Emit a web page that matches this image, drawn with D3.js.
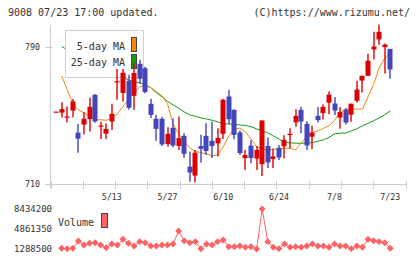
<!DOCTYPE html>
<html><head><meta charset="utf-8">
<script src="https://cdn.jsdelivr.net/npm/d3@7/dist/d3.min.js"></script>
<style>
body{margin:0;background:#fff}
svg{display:block}
text{font-family:"DejaVu Sans Mono","Liberation Mono",monospace;fill:#333}
</style>
</head><body>
<svg id="c" width="420" height="259"></svg>
<script>
const dates = ["4/24","4/25","4/26","4/30","5/1","5/2","5/7","5/8","5/9","5/10","5/13","5/14","5/15","5/16","5/17","5/20","5/21","5/22","5/23","5/24","5/27","5/28","5/29","5/30","5/31","6/3","6/4","6/5","6/6","6/7","6/10","6/11","6/12","6/13","6/14","6/17","6/18","6/19","6/20","6/21","6/24","6/25","6/26","6/27","6/28","7/1","7/2","7/3","7/4","7/5","7/8","7/9","7/10","7/11","7/12","7/16","7/17","7/18","7/19","7/22","7/23"];
const open  = [752.3,751.7,749.4,752.9,740.0,744.7,747.9,762.1,744.1,739.4,746.5,770.0,763.1,770.3,761.5,780.2,777.6,756.8,748.1,748.1,733.4,742.8,732.2,738.1,720.1,714.9,732.2,738.1,735.2,733.7,739.3,761.1,753.3,740.1,725.1,732.4,724.8,721.6,732.2,724.6,731.1,732.0,738.7,746.0,753.3,745.1,737.6,749.8,751.4,757.5,757.0,748.8,753.4,750.5,758.6,770.4,773.2,788.6,794.4,789.9,788.9];
const high  = [752.3,757.8,755.3,759.6,745.1,752.1,760.3,762.5,746.3,745.4,756.8,777.1,777.1,773.8,780.7,782.6,778.5,759.8,750.4,749.2,743.1,748.3,749.4,739.7,728.9,729.9,738.7,745.5,746.3,742.5,759.8,765.0,753.7,741.3,729.9,735.5,732.2,747.1,737.2,730.8,732.8,738.4,742.6,753.7,755.1,746.7,744.0,755.0,756.4,764.0,760.8,755.0,754.4,756.9,770.3,773.2,786.0,798.9,803.1,792.1,788.9];
const low   = [752.3,749.0,745.9,749.0,728.3,738.9,740.6,745.7,736.3,736.3,741.6,759.2,758.2,753.3,753.3,768.5,763.0,748.6,735.2,732.2,731.8,731.5,729.9,725.4,711.3,710.9,722.6,727.0,725.2,726.0,736.3,745.1,736.2,727.0,718.2,722.1,718.2,714.7,719.4,719.4,724.0,724.9,730.9,743.5,739.7,729.9,730.4,745.9,747.6,750.7,750.3,742.3,744.7,746.4,757.6,763.4,773.0,782.7,791.3,774.5,771.5];
const close = [752.3,753.7,749.4,758.2,736.5,748.1,755.1,746.5,744.1,742.2,751.0,770.0,775.0,754.5,774.8,771.5,763.7,750.4,742.2,733.1,739.3,732.5,736.8,727.6,716.7,728.3,730.5,729.3,732.2,736.9,759.2,747.8,738.7,728.1,726.9,725.2,729.9,747.1,722.6,726.1,725.5,735.8,739.3,749.8,746.5,732.5,740.0,747.3,755.0,762.2,752.9,752.0,745.9,756.9,765.1,773.2,782.0,790.3,798.9,791.4,776.9];
const ma5   = [null,773.2,765.0,756.8,753.3,751.6,749.2,747.5,747.5,747.2,748.6,751.0,755.1,759.8,763.3,766.8,767.4,766.2,764.1,761.5,756.8,745.1,739.3,735.2,731.1,729.0,728.3,727.6,726.4,727.0,731.7,738.1,742.2,742.6,740.4,736.3,731.7,730.2,729.9,730.2,730.5,730.9,730.9,729.9,734.0,737.5,740.1,741.0,742.5,744.0,747.2,751.6,753.7,753.7,753.7,753.7,760.9,768.0,777.9,783.5,786.7];
const ma25  = [null,790.2,788.4,786.7,784.9,783.2,781.4,779.7,777.9,776.4,775.0,773.5,772.1,770.9,769.7,769.1,768.0,766.2,763.3,760.9,758.3,756.2,754.2,752.1,750.4,749.5,748.6,748.0,747.2,746.3,745.1,745.1,744.8,744.5,744.2,743.4,742.2,741.0,739.9,738.1,736.3,734.6,734.0,733.8,733.8,733.8,734.2,734.9,735.8,737.2,739.3,739.7,739.7,741.0,742.2,744.0,745.4,746.9,748.6,750.4,752.7];
const volume = [null,1410000,1330000,1410000,2717600,2003000,2300000,2420000,2003000,1520000,2182000,2003000,3020000,2300000,1825000,2600000,2420000,1825000,1825000,2003000,2003000,2182000,4504000,2770000,2420000,2600000,1330000,2182000,2003000,2600000,2896000,1700000,1700000,1825000,1590000,1700000,1288500,8434200,2600000,1590000,1350000,2182000,1590000,1700000,1590000,1825000,2182000,1825000,1825000,1590000,2182000,1825000,1825000,1350000,1825000,1590000,3020000,2770000,2600000,2420000,1410000];
const priceTicks = [710, 790];
const dateLabels = ["5/13","5/27","6/10","6/24","7/8","7/23"];
const volTicks = [1288500, 4861350, 8434200];
const gridTicks = d3.range(12);
const headerLeft = "9008 07/23 17:00 updated.";
const headerRight = "(C)https://www.rizumu.net/";
const legendNames = ["5-day MA","25-day MA"];

const RED = "#dd0000", BLUE = "#4444bb", ORANGE = "#f08a10", GREEN = "#10a010", VOL = "#ff6262", AX = "#cccccc";

const svg = d3.select("#c");
const x = d3.scalePoint().domain(dates).range([56.1, 390.3]);
const y = d3.scaleLinear().domain([710, 790]).range([184, 47]);
const yv = d3.scaleLinear().domain([1288500, 8434200]).range([249, 209]);
const xg = d3.scaleLinear().domain([0, 11]).range([50.5, 405.5]);

// header
svg.append("text").attr("x", 8).attr("y", 16).attr("font-size", 10).text(headerLeft);
svg.append("text").attr("x", 410).attr("y", 16).attr("font-size", 10).attr("text-anchor", "end").text(headerRight);

// axes
svg.append("line").attr("x1", 50.5).attr("x2", 50.5).attr("y1", 25).attr("y2", 188).attr("stroke", AX);
svg.append("line").attr("x1", 45).attr("x2", 406).attr("y1", y(710)+0.5).attr("y2", y(710)+0.5).attr("stroke", AX);
svg.selectAll(".gt").data(gridTicks).join("line")
  .attr("x1", d => Math.round(xg(d))+0.5).attr("x2", d => Math.round(xg(d))+0.5)
  .attr("y1", 181).attr("y2", 189).attr("stroke", AX);
svg.selectAll(".pt").data(priceTicks).join("line")
  .attr("x1", 45).attr("x2", 53).attr("y1", d => Math.round(y(d))+0.5).attr("y2", d => Math.round(y(d))+0.5).attr("stroke", AX);
svg.selectAll(".pl").data(priceTicks).join("text")
  .attr("x", 40).attr("y", d => y(d)+3).attr("font-size", 8.3).attr("text-anchor", "end").text(d => d);
svg.selectAll(".dl").data(dateLabels).join("text")
  .attr("x", d => x(d)).attr("y", 200).attr("font-size", 8.3).attr("text-anchor", "middle").text(d => d);

// MA lines
const idx = d3.range(dates.length);
const lineMA = arr => d3.line().defined(i => arr[i] != null).x(i => x(dates[i])).y(i => y(arr[i]));
svg.append("path").attr("d", lineMA(ma25)(idx)).attr("fill", "none").attr("stroke", GREEN).attr("stroke-width", 1);
svg.append("path").attr("d", lineMA(ma5)(idx)).attr("fill", "none").attr("stroke", ORANGE).attr("stroke-width", 1);

// legend box
svg.append("rect").attr("x", 65.5).attr("y", 30.5).attr("width", 78).attr("height", 47).attr("fill", "#fff").attr("stroke", "#d0d0d0");
legendNames.forEach((n, k) => {
  svg.append("text").attr("x", 125).attr("y", 50 + k*16).attr("font-size", 10).attr("text-anchor", "end").text(n);
  svg.append("rect").attr("x", 131.5).attr("y", 37.5 + k*17).attr("width", 5).attr("height", 14)
    .attr("fill", k === 0 ? ORANGE : GREEN).attr("stroke", "#444");
});

// candles
const cg = svg.append("g");
idx.forEach(i => {
  const up = close[i] >= open[i];
  const col = up ? RED : BLUE;
  const cx = Math.round(x(dates[i]));
  cg.append("line").attr("x1", cx).attr("x2", cx).attr("y1", y(high[i])).attr("y2", y(low[i]))
    .attr("stroke", col).attr("stroke-width", 1.4);
  const top = y(Math.max(open[i], close[i])), bot = y(Math.min(open[i], close[i]));
  cg.append("rect").attr("x", cx - 2.5).attr("y", top).attr("width", 5).attr("height", Math.max(1.2, bot - top)).attr("fill", col);
});

// volume
svg.selectAll(".vl").data(volTicks).join("text")
  .attr("x", 52).attr("y", d => yv(d)+3).attr("font-size", 9).attr("text-anchor", "end").text(d => d);
const vidx = idx.filter(i => volume[i] != null);
svg.append("path").attr("d", d3.line().x(i => x(dates[i])).y(i => yv(volume[i]))(vidx))
  .attr("fill", "none").attr("stroke", VOL).attr("stroke-width", 1);
svg.selectAll(".vm").data(vidx).join("path")
  .attr("d", d3.symbol(d3.symbolSquare, 24))
  .attr("transform", i => `translate(${x(dates[i])},${yv(volume[i])}) rotate(45)`)
  .attr("fill", VOL);
svg.append("text").attr("x", 58).attr("y", 226).attr("font-size", 10).text("Volume");
svg.append("rect").attr("x", 101.5).attr("y", 213.5).attr("width", 6).attr("height", 14).attr("fill", VOL).attr("stroke", "#444");
</script>
</body></html>
